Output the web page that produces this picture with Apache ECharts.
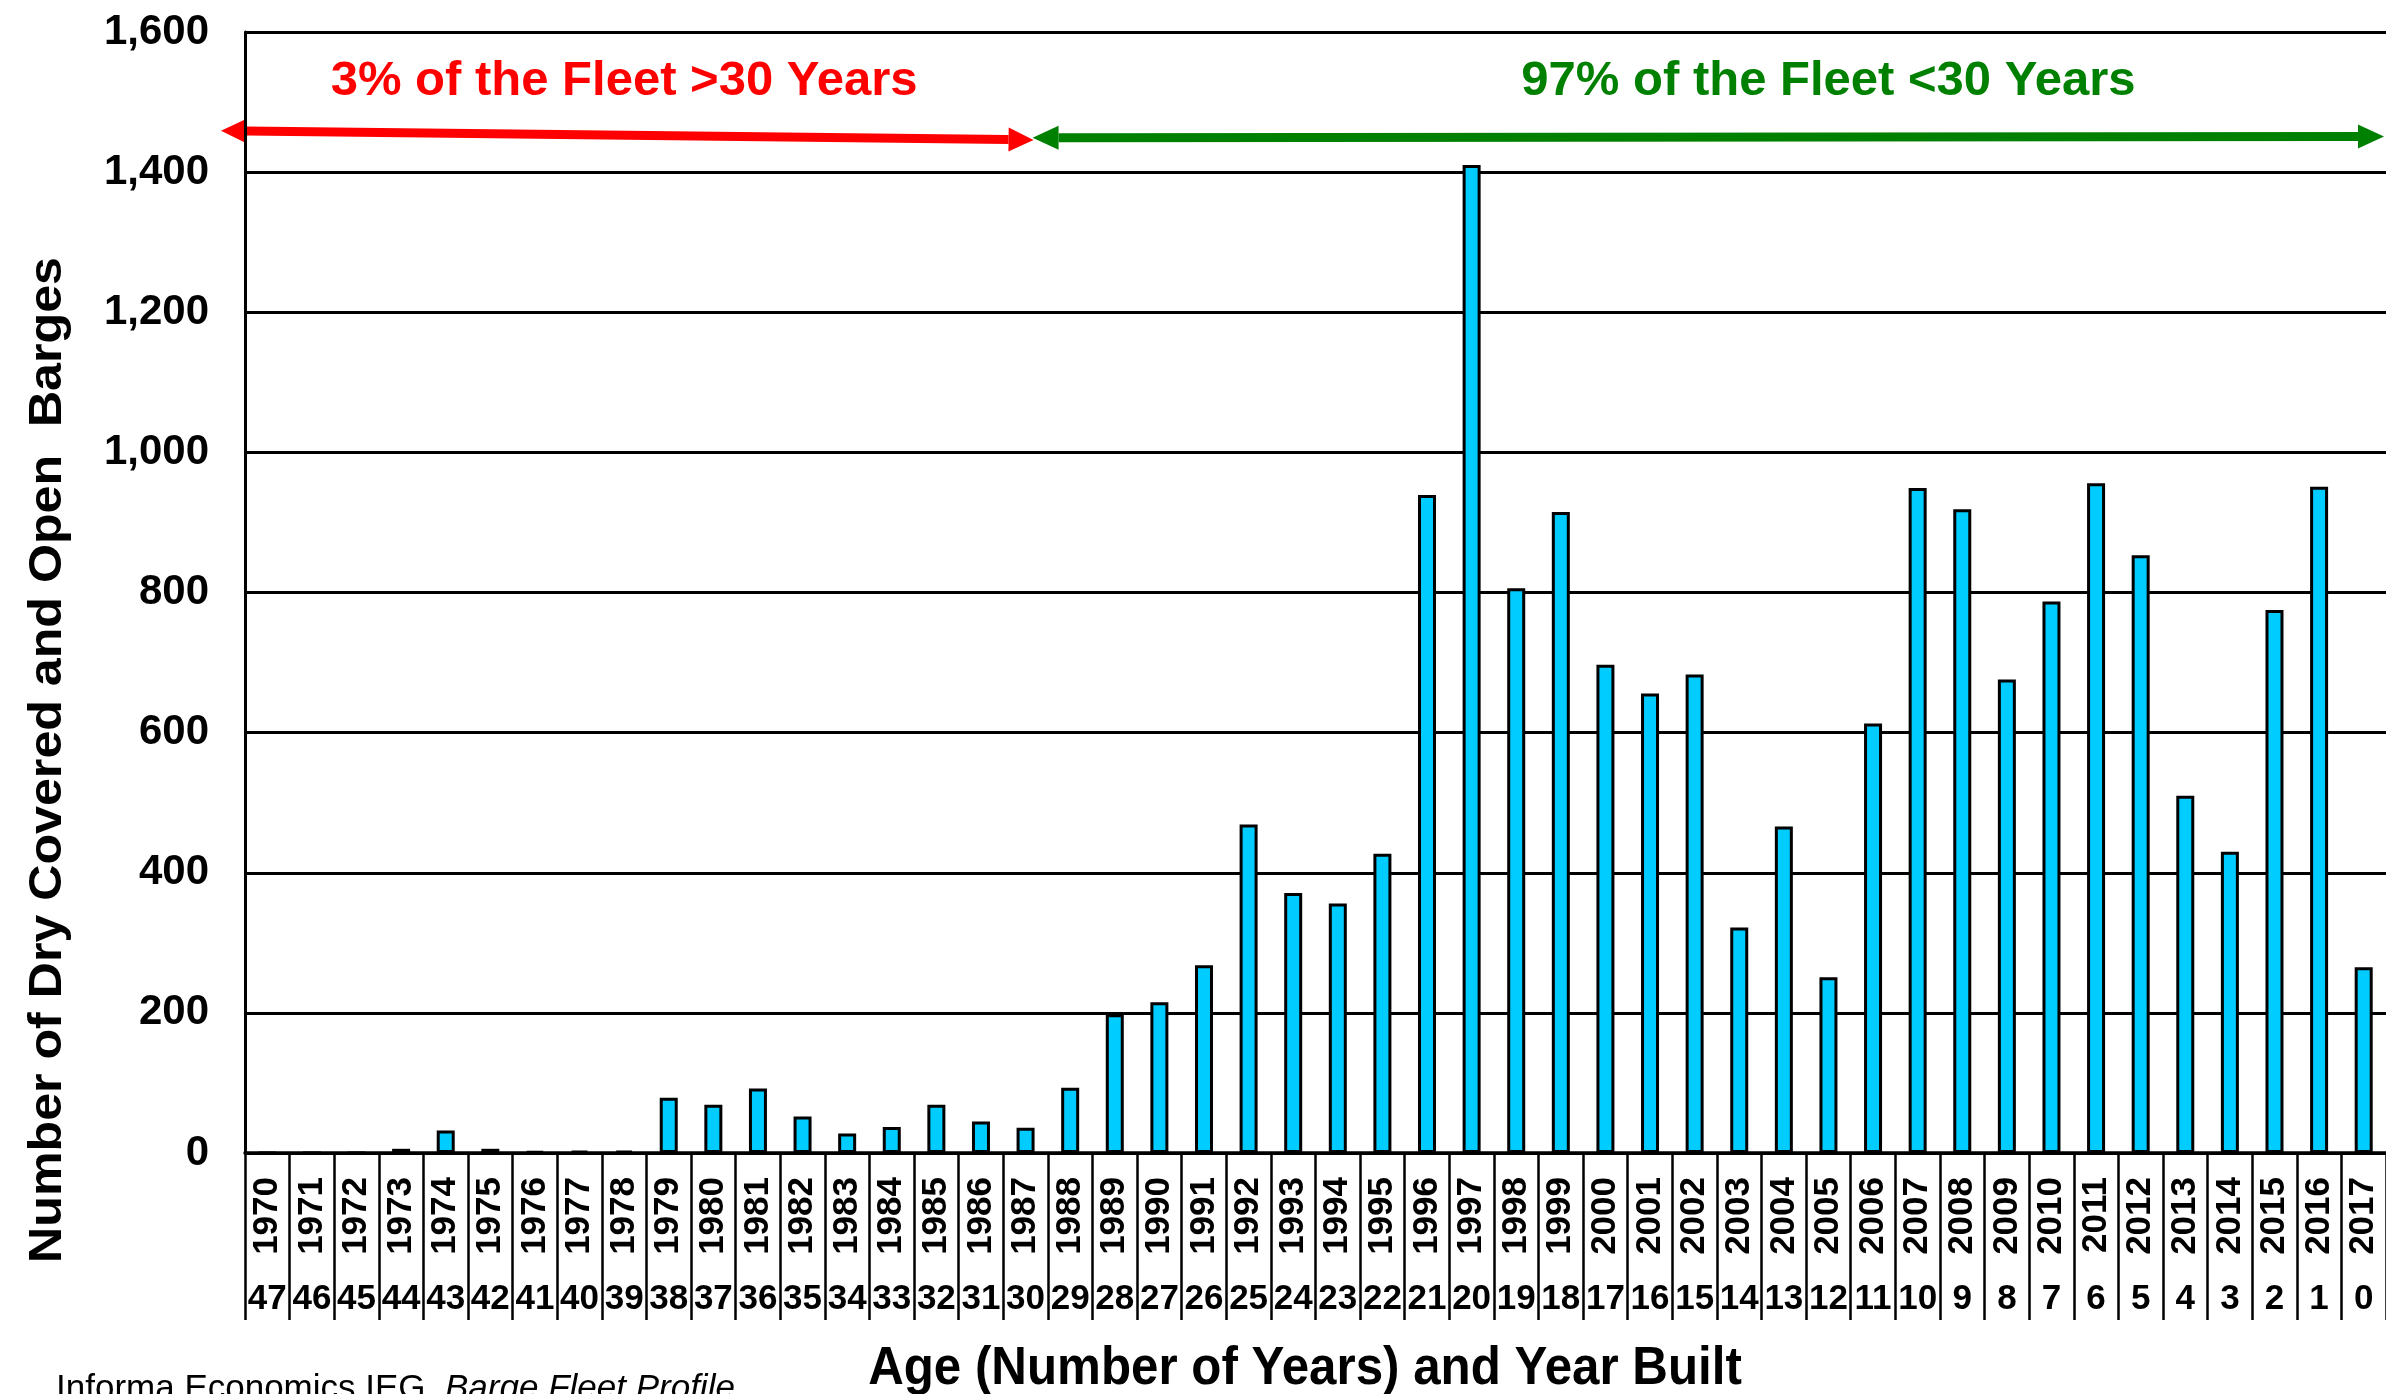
<!DOCTYPE html>
<html><head><meta charset="utf-8">
<script src="https://cdn.jsdelivr.net/npm/echarts@6/dist/echarts.min.js"></script>
<style>html,body{margin:0;padding:0;background:#fff}#c{width:2386px;height:1394px}</style>
</head><body><div id="c"></div>
<script>
const years = ['1970','1971','1972','1973','1974','1975','1976','1977','1978','1979','1980','1981','1982','1983','1984','1985','1986','1987','1988','1989','1990','1991','1992','1993','1994','1995','1996','1997','1998','1999','2000','2001','2002','2003','2004','2005','2006','2007','2008','2009','2010','2011','2012','2013','2014','2015','2016','2017'];
const ages = ['47','46','45','44','43','42','41','40','39','38','37','36','35','34','33','32','31','30','29','28','27','26','25','24','23','22','21','20','19','18','17','16','15','14','13','12','11','10','9','8','7','6','5','4','3','2','1','0'];
const barges = [0,0,0,6,32,6,2,3,3,79,69,92,52,28,37,69,45,36,93,198,215,268,469,371,356,427,939,1410,806,915,697,656,683,322,466,251,613,949,919,676,787,956,853,510,430,775,951,265];
const yMin = 0, yMax = 1600, yStep = 200;
const leftNote = '3% of the Fleet >30 Years';
const rightNote = '97% of the Fleet <30 Years';
const yTitle = 'Number of Dry Covered and Open  Barges';
const xTitle = 'Age (Number of Years) and Year Built';
const sourceA = 'Informa Economics IEG, ';
const sourceB = 'Barge Fleet Profile';

const FONT = '"Liberation Sans", Arial, Helvetica, sans-serif';
const chart = echarts.init(document.getElementById('c'), null, {renderer: 'canvas'});
chart.setOption({
  animation: false,
  backgroundColor: '#ffffff',
  grid: {left: 245, top: 32, right: -5, bottom: 241, containLabel: false},
  xAxis: [{
    type: 'category', data: years, position: 'bottom', boundaryGap: true,
    axisLine: {show: true, lineStyle: {color: '#000', width: 3.5}},
    axisTick: {show: true, interval: 0, length: 167, alignWithLabel: false, lineStyle: {color: '#000', width: 2.5}},
    axisLabel: {interval: 0, rotate: 90, margin: 24, fontSize: 35, fontWeight: 'bold', fontFamily: FONT, color: '#000'},
    splitLine: {show: false}
  }, {
    type: 'category', data: ages, position: 'bottom', gridIndex: 0, boundaryGap: true,
    axisLine: {show: false}, axisTick: {show: false}, splitLine: {show: false},
    axisLabel: {interval: 0, margin: 129, fontSize: 35, fontWeight: 'bold', fontFamily: FONT, color: '#000'}
  }],
  yAxis: {
    type: 'value', min: yMin, max: yMax, interval: yStep,
    axisLine: {show: true, lineStyle: {color: '#000', width: 3}},
    axisTick: {show: false},
    splitLine: {show: true, lineStyle: {color: '#000', width: 3}},
    axisLabel: {margin: 36, fontSize: 42, fontWeight: 'bold', fontFamily: FONT, color: '#000',
      formatter: v => v.toLocaleString('en-US')}
  },
  series: [{
    type: 'bar', data: barges, xAxisIndex: 0, yAxisIndex: 0, barWidth: 18,
    itemStyle: {color: '#00CCFF', borderColor: '#000', borderWidth: 3}
  }]
});

const P = (i, v) => chart.convertToPixel({seriesIndex: 0}, [years[i], v]);
const band = P(1, 0)[0] - P(0, 0)[0];
const Y = v => P(0, v)[1];

function arrow(a, b, color, lw, hl, hw) {
  const dx = b[0] - a[0], dy = b[1] - a[1], L = Math.hypot(dx, dy);
  const ux = dx / L, uy = dy / L, nx = -uy, ny = ux;
  const a2 = [a[0] + ux * hl, a[1] + uy * hl], b2 = [b[0] - ux * hl, b[1] - uy * hl];
  return [
    {type: 'line', shape: {x1: a2[0], y1: a2[1], x2: b2[0], y2: b2[1]}, style: {stroke: color, lineWidth: lw}},
    {type: 'polygon', shape: {points: [a, [a2[0] + nx * hw / 2, a2[1] + ny * hw / 2], [a2[0] - nx * hw / 2, a2[1] - ny * hw / 2]]}, style: {fill: color}},
    {type: 'polygon', shape: {points: [b, [b2[0] + nx * hw / 2, b2[1] + ny * hw / 2], [b2[0] - nx * hw / 2, b2[1] - ny * hw / 2]]}, style: {fill: color}}
  ];
}

const meetX = P(17, 0)[0] + 8;
const leftX = P(0, 0)[0] - band / 2 - 24;
const rightX = P(47, 0)[0] + band / 2 - 2;
const gfx = [].concat(
  arrow([leftX, Y(1459)], [meetX, Y(1446)], '#FF0000', 9, 25, 24),
  arrow([meetX - 1, Y(1449)], [rightX, Y(1451)], '#008000', 9, 26, 24),
  [
    {type: 'text', x: P(8, 0)[0], y: Y(1529), style: {text: leftNote, fill: '#FF0000', font: 'bold 49px ' + FONT, align: 'center', verticalAlign: 'middle'}},
    {type: 'text', x: P(35, 0)[0], y: Y(1530), style: {text: rightNote, fill: '#008000', font: 'bold 49px ' + FONT, align: 'center', verticalAlign: 'middle'}},
    {type: 'text', x: 48, y: 760, rotation: Math.PI / 2, scaleX: 1.09, style: {text: yTitle, fill: '#000', font: 'bold 46px ' + FONT, align: 'center', verticalAlign: 'middle'}},
    {type: 'text', x: 1305, y: 1369, scaleX: 0.93, style: {text: xTitle, fill: '#000', font: 'bold 53px ' + FONT, align: 'center', verticalAlign: 'middle'}},
    {type: 'text', x: 56, y: 1389, style: {
      text: '{a|' + sourceA + '}{b|' + sourceB + '}', align: 'left', verticalAlign: 'middle',
      rich: {a: {fontSize: 35, fontFamily: FONT, fill: '#000', color: '#000'}, b: {fontSize: 35, fontStyle: 'italic', fontFamily: FONT, fill: '#000', color: '#000'}}
    }}
  ]
);
chart.setOption({graphic: gfx});
</script>
</body></html>
